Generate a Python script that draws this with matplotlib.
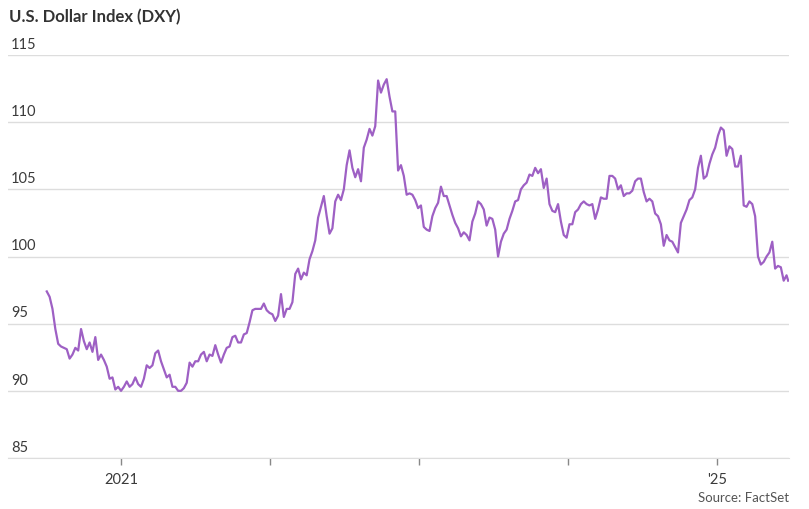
import pandas as pd
import matplotlib
matplotlib.use('Agg')
import matplotlib.pyplot as plt
import matplotlib.dates as mdates
from matplotlib.transforms import offset_copy

# weekly closes (Fridays)
dxy_2020 = [97.4, 97.0, 96.1, 94.6, 93.5, 93.3, 93.2, 93.1, 92.4, 92.7, 93.2, 93.0, 94.6,
            93.7, 93.1, 93.6, 92.9, 94.0, 92.3, 92.7, 92.3, 91.8, 90.9, 91.0, 90.1, 90.3, 90.0]
dxy_2021 = [90.3, 90.7, 90.3, 90.5, 91.0, 90.5, 90.3, 90.9, 91.9, 91.7, 91.9, 92.8, 93.0,
            92.2, 91.6, 91.0, 91.2, 90.3, 90.3, 90.0, 90.0, 90.2, 90.6, 92.1, 91.8, 92.2,
            92.2, 92.7, 92.9, 92.2, 92.7, 92.6, 93.4, 92.7, 92.1, 92.7, 93.2, 93.3, 94.0,
            94.1, 93.6, 93.6, 94.2, 94.3, 95.1, 96.0, 96.1, 96.1, 96.1, 96.5, 96.0, 95.8]
dxy_2022 = [95.7, 95.2, 95.6, 97.2, 95.5, 96.1, 96.1, 96.6, 98.7, 99.1, 98.3, 98.8, 98.6,
            99.8, 100.4, 101.2, 102.9, 103.7, 104.5, 103.0, 101.7, 102.1, 104.1, 104.6, 104.2,
            105.0, 106.8, 107.9, 106.6, 105.9, 106.5, 105.6, 108.1, 108.7, 109.5, 109.0, 109.7,
            113.1, 112.2, 112.8, 113.2, 111.9, 110.8, 110.8, 106.4, 106.8, 106.0, 104.6, 104.7,
            104.6, 104.2, 103.6]
dxy_2023 = [103.8, 102.2, 102.0, 101.9, 103.0, 103.6, 104.0, 105.2, 104.5, 104.5, 103.8, 103.1,
            102.5, 102.1, 101.5, 101.8, 101.6, 101.2, 102.6, 103.2, 104.1, 103.9, 103.5, 102.3,
            102.9, 102.8, 102.0, 100.0, 101.1, 101.7, 102.0, 102.8, 103.4, 104.1, 104.2, 105.0,
            105.3, 105.5, 106.1, 106.0, 106.6, 106.2, 106.5, 105.1, 105.8, 103.9, 103.4, 103.3,
            103.9, 102.6, 101.6, 101.4]
dxy_2024 = [102.4, 102.4, 103.3, 103.5, 103.9, 104.1, 103.9, 103.8, 103.9, 102.8, 103.5, 104.4,
            104.3, 104.3, 106.0, 106.0, 105.8, 105.0, 105.3, 104.5, 104.7, 104.7, 104.9, 105.6,
            105.8, 105.8, 104.8, 104.1, 104.3, 104.1, 103.2, 103.0, 102.4, 100.8, 101.6, 101.2,
            101.1, 100.7, 100.3, 102.5, 103.0, 103.5, 104.2, 104.4, 105.0, 106.6, 107.5, 105.8,
            106.0, 106.9, 107.6, 108.1]
dxy_2025 = [109.0, 109.6, 109.4, 107.5, 108.2, 108.0, 106.7, 106.7, 107.5, 103.8, 103.7, 104.1,
            103.9, 103.0, 100.0, 99.4, 99.6, 100.0, 100.3, 101.1, 99.1, 99.3, 99.2, 98.2, 98.6]
last_day = '2025-06-24'
last_value = 98.2

y_ticks = [85, 90, 95, 100, 105, 110, 115]
x_tick_years = ['2021', '2022', '2023', '2024', '2025']
x_tick_labels = ['2021', '', '', '', "'25"]

values = dxy_2020 + dxy_2021 + dxy_2022 + dxy_2023 + dxy_2024 + dxy_2025 + [last_value]
dates = list(pd.date_range('2020-07-03', '2025-06-20', freq='W-FRI')) + [pd.Timestamp(last_day)]

plt.rcParams['font.family'] = ['Lato', 'DejaVu Sans']

fig = plt.figure(figsize=(8.09, 5.10), dpi=100)
ax = fig.add_axes([8 / 809, 1 - 459 / 510, 781 / 809, 403 / 510])

ax.plot(dates, values, color='#9e60c4', linewidth=1.6, solid_joinstyle='round', zorder=3)

ax.set_ylim(85, 115)
ax.set_xlim(pd.Timestamp('2020-03-30'), pd.Timestamp('2025-06-26'))

ax.set_yticks(y_ticks)
ax.yaxis.grid(True, color='#dddddd', linewidth=1)
ax.tick_params(axis='y', length=0, labelleft=False)
label_tr = offset_copy(ax.get_yaxis_transform(), fig=fig, x=2, y=3, units='points')
for v in y_ticks:
    ax.text(0, v, str(v), transform=label_tr, ha='left', va='bottom',
            fontsize=10.5, color='#3a3a3a')

ax.set_xticks([pd.Timestamp(y + '-01-01') for y in x_tick_years])
ax.set_xticklabels(x_tick_labels)
ax.tick_params(axis='x', length=5, width=1, color='#888888', pad=5,
               labelsize=10.5, labelcolor='#3a3a3a')

for s in ['top', 'right', 'left']:
    ax.spines[s].set_visible(False)
ax.spines['bottom'].set_color('#dddddd')
ax.set_axisbelow(True)

fig.text(9 / 809, 1 - 17 / 510, 'U.S. Dollar Index (DXY)', fontsize=12, fontweight='bold',
         color='#333333', ha='left', va='center')
fig.text(789 / 809, 1 - 498 / 510, 'Source: FactSet', fontsize=9.5, color='#555555',
         ha='right', va='center')

fig.savefig('out.png', dpi=100)
